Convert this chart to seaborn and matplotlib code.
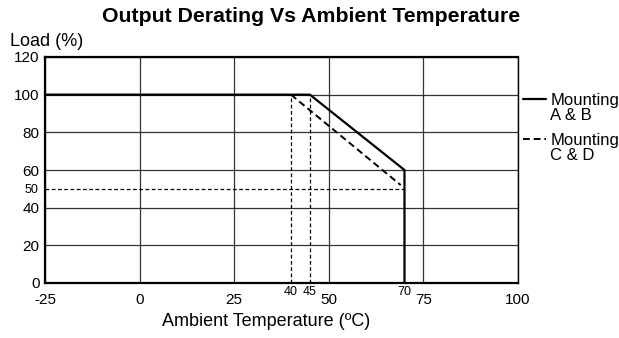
import matplotlib
matplotlib.use("Agg")
import matplotlib.pyplot as plt
import seaborn as sns
import pandas as pd

# curve data
temp_ab = [-25, 45, 70, 70]
load_ab = [100, 100, 60, 0]
temp_cd = [40, 69]
load_cd = [100, 52]

# dashed guide lines
guide_x = [40, 45]
guide_x_top = 100
guide_y = 50
guide_y_end = 70

x_ticks = [-25, 0, 25, 50, 75, 100]
x_small_ticks = [40, 45, 70]
y_ticks = [0, 20, 40, 60, 80, 100, 120]
y_small_ticks = [50]

sns.set_style("white")
plt.rcParams['font.family'] = ['Liberation Sans', 'DejaVu Sans']
plt.rcParams['text.color'] = 'black'
plt.rcParams['xtick.color'] = 'black'
plt.rcParams['ytick.color'] = 'black'
plt.rcParams['axes.unicode_minus'] = False

fig = plt.figure(figsize=(6.19, 3.38), dpi=100)
ax = fig.add_axes([45/619, 1-283/338, (518-45)/619, (283-57)/338])

df_ab = pd.DataFrame({"temp": temp_ab, "load": load_ab})
df_cd = pd.DataFrame({"temp": temp_cd, "load": load_cd})

# guides
for gx in guide_x:
    ax.plot([gx, gx], [0, guide_x_top], color="black", lw=0.9, ls=(0, (3, 2)), zorder=2)
ax.plot([x_ticks[0], guide_y_end], [guide_y, guide_y], color="black", lw=0.9, ls=(0, (3, 2)), zorder=2)

sns.lineplot(data=df_ab, x="temp", y="load", sort=False, estimator=None, color="black",
             lw=1.6, ax=ax, label="Mounting", zorder=4)
sns.lineplot(data=df_cd, x="temp", y="load", sort=False, estimator=None, color="black",
             lw=1.4, ax=ax, label="Mounting", zorder=4)
ax.lines[-1].set_dashes((3.5, 2))

ax.set_xlim(-25, 100)
ax.set_ylim(0, 120)
ax.set_xticks(x_ticks)
ax.set_xticks(x_small_ticks, minor=True)
ax.set_xticklabels([str(v) for v in x_small_ticks], minor=True)
ax.set_yticks(y_ticks)
ax.set_yticks(y_small_ticks, minor=True)
ax.set_yticklabels([str(v) for v in y_small_ticks], minor=True)
ax.tick_params(which="major", length=0, labelsize=11)
ax.tick_params(axis="x", which="major", pad=7)
ax.tick_params(axis="y", which="major", pad=4)
ax.tick_params(which="minor", length=0, labelsize=9)
ax.tick_params(axis="x", which="minor", pad=2)
ax.tick_params(axis="y", which="minor", pad=5)
ax.grid(True, which="major", color="#333333", lw=0.9)
ax.set_xlabel("")
ax.set_ylabel("")

for side in ["left", "bottom", "top"]:
    ax.spines[side].set_linewidth(1.6)
    ax.spines[side].set_color("black")
ax.spines["right"].set_linewidth(1.0)
ax.spines["right"].set_color("black")

leg = ax.legend(loc="upper left", bbox_to_anchor=(1.01, 0.84), frameon=False,
                fontsize=12, handlelength=1.4, handletextpad=0.25,
                labelspacing=1.5, borderaxespad=0, borderpad=0)
for t, second in zip(leg.get_texts(), ["A & B", "C & D"]):
    ax.annotate(second, xy=(0, 0), xycoords=t, xytext=(0, 0),
                textcoords="offset points", ha="left", va="top", fontsize=12,
                zorder=10)

fig.text(0.503, 1-17/338, "Output Derating Vs Ambient Temperature",
         ha="center", va="center", fontsize=15.3, fontweight="bold")
fig.text(10/619, 1-42/338, "Load (%)", ha="left", va="center", fontsize=13)
fig.text(266/619, 1-322/338, "Ambient Temperature (ºC)", ha="center", va="center", fontsize=13)

fig.savefig("out.png", dpi=100)
